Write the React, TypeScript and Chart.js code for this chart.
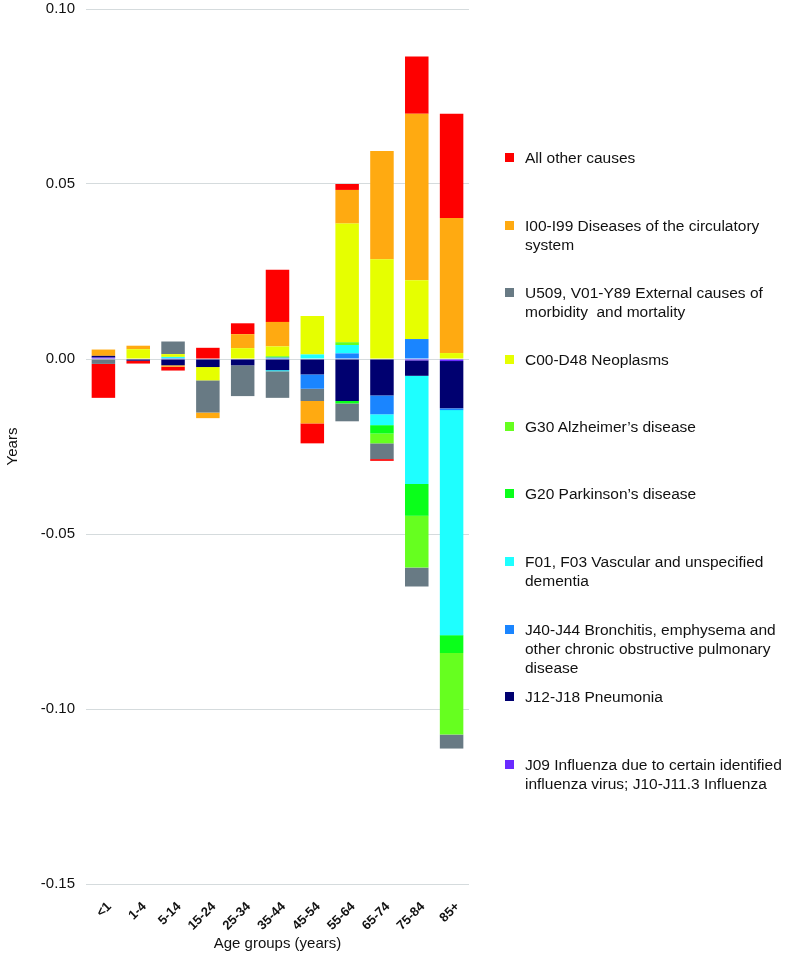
import React, { useEffect, useRef } from "react";
import { Chart, registerables } from "chart.js";

Chart.register(...registerables);

const ageGroups = ["<1", "1-4", "5-14", "15-24", "25-34", "35-44", "45-54", "55-64", "65-74", "75-84", "85+"];

// Stacking order (bottom of stack first)
const influenza = [0.0004, 0, 0, 0, 0, 0, 0, 0, 0, -0.0004, -0.0006];
const pneumonia = [0.0005, -0.0005, -0.0018, -0.0023, -0.0018, -0.0032, -0.0044, -0.012, -0.0104, -0.0044, -0.0135];
const bronchitis = [0, 0, 0.0003, 0, 0, 0.0004, -0.0041, 0.0016, -0.0054, 0.0057, -0.0005];
const dementia = [0, 0, 0.0003, 0, 0, -0.0003, 0.0013, 0.0024, -0.0031, -0.0309, -0.0643];
const parkinson = [0, 0, 0, 0, 0, 0, 0, -0.0007, -0.0024, -0.0091, -0.0051];
const alzheimer = [0, 0, 0, 0, 0, 0.0004, 0, 0.0008, -0.0028, -0.0148, -0.0233];
const neoplasms = [0, 0.0028, 0.0008, -0.0038, 0.0031, 0.0028, 0.011, 0.0339, 0.0285, 0.0168, 0.0017];
const external = [-0.0014, 0, 0.0036, -0.0092, -0.0088, -0.0076, -0.0035, -0.0051, -0.0045, -0.0054, -0.004];
const circulatory = [0.0018, 0.001, -0.0004, -0.0016, 0.004, 0.007, -0.0064, 0.0096, 0.0309, 0.0476, 0.0386];
const otherCauses = [-0.0097, -0.0008, -0.0011, 0.0032, 0.0031, 0.0149, -0.0057, 0.0017, -0.0005, 0.0163, 0.0298];

const yMin = -0.15;
const yMax = 0.1;
const yStep = 0.05;

const seriesLabels = [
  ["J09 Influenza due to certain identified", "influenza virus; J10-J11.3 Influenza"],
  ["J12-J18 Pneumonia"],
  ["J40-J44 Bronchitis, emphysema and", "other chronic obstructive pulmonary", "disease"],
  ["F01, F03 Vascular and unspecified", "dementia"],
  ["G20 Parkinson\u2019s disease"],
  ["G30 Alzheimer\u2019s disease"],
  ["C00-D48 Neoplasms"],
  ["U509, V01-Y89 External causes of", "morbidity  and mortality"],
  ["I00-I99 Diseases of the circulatory", "system"],
  ["All other causes"],
];
const seriesColors = [
  "#6a2bff",
  "#000070",
  "#1a85ff",
  "#1effff",
  "#0aff1a",
  "#66ff1f",
  "#e6ff00",
  "#687a84",
  "#ffaa11",
  "#fe0000",
];
const seriesValues = [influenza, pneumonia, bronchitis, dementia, parkinson, alzheimer, neoplasms, external, circulatory, otherCauses];

const FONT = "'Liberation Sans', Arial, Helvetica, sans-serif";

export default function App() {
  const canvasRef = useRef<HTMLCanvasElement | null>(null);

  useEffect(() => {
    const canvas = canvasRef.current;
    if (!canvas) return;
    const chart = new Chart(canvas, {
      type: "bar",
      data: {
        labels: ageGroups,
        datasets: seriesValues.map((vals, i) => ({
          label: seriesLabels[i].join(" "),
          data: vals,
          backgroundColor: seriesColors[i],
          borderWidth: 0,
          barPercentage: 0.675,
          categoryPercentage: 1,
        })),
      },
      options: {
        responsive: false,
        animation: false,
        devicePixelRatio: 1,
        layout: { padding: { left: 0, right: 316, top: 9, bottom: 4 } },
        plugins: { legend: { display: false }, tooltip: { enabled: false } },
        scales: {
          x: {
            stacked: true,
            grid: { display: false },
            border: { display: false },
            ticks: {
              maxRotation: 45,
              minRotation: 45,
              padding: 7,
              labelOffset: 6,
              color: "#111",
              font: { family: FONT, size: 13, weight: "bold" },
              autoSkip: false,
            },
            title: {
              display: true,
              text: "Age groups (years)",
              color: "#111",
              font: { family: FONT, size: 15 },
              padding: { top: 4, bottom: 4 },
            },
            afterFit: (axis: any) => {
              axis.height = 73;
              axis.paddingLeft = 0;
              axis.paddingRight = 0;
            },
          },
          y: {
            stacked: true,
            min: yMin,
            max: yMax,
            grid: { color: "#d5dbdd", lineWidth: 1, drawTicks: false },
            border: { display: false },
            ticks: {
              stepSize: yStep,
              padding: 11,
              color: "#111",
              font: { family: FONT, size: 15 },
              callback: (v: any) => Number(v).toFixed(2),
            },
            title: {
              display: true,
              text: "Years",
              color: "#111",
              font: { family: FONT, size: 15 },
              padding: { top: 4, bottom: 4 },
            },
            afterFit: (axis: any) => {
              axis.width = 86;
              axis.paddingTop = 0;
              axis.paddingBottom = 0;
            },
          },
        },
      },
    });
    return () => chart.destroy();
  }, []);

  const legendOrder = seriesLabels.map((_, i) => i).reverse();
  const firstLineCenters = [157, 225.5, 292, 359, 426.5, 493, 561.5, 629, 696.5, 764];

  return (
    <div style={{ position: "absolute", left: 0, top: 0, width: 785, height: 961, background: "#fff" }}>
      <canvas ref={canvasRef} width={785} height={961} style={{ position: "absolute", left: 0, top: 0, width: 785, height: 961 }} />
      {legendOrder.map((si, k) => {
        const cy = firstLineCenters[k];
        return (
          <div key={si}>
            <div
              style={{
                position: "absolute",
                left: 505,
                top: cy - 4.5,
                width: 9,
                height: 9,
                background: seriesColors[si],
              }}
            />
            <div
              style={{
                position: "absolute",
                left: 525,
                top: cy - 9.5,
                fontFamily: FONT,
                fontSize: 15.5,
                lineHeight: "19px",
                color: "#111",
                whiteSpace: "pre",
              }}
            >
              {seriesLabels[si].map((line, j) => (
                <div key={j}>{line}</div>
              ))}
            </div>
          </div>
        );
      })}
    </div>
  );
}
